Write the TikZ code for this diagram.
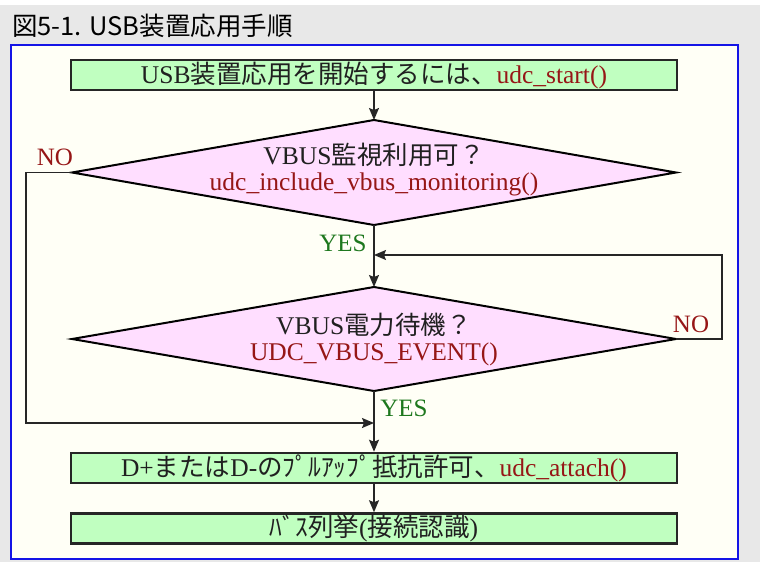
\documentclass[tikz,border=0pt]{standalone}
\usepackage{fontspec}
\setmainfont{Liberation Serif}
\newfontfamily\cjk{Noto Sans CJK JP}
\usetikzlibrary{shapes.geometric,arrows.meta}
\definecolor{bggray}{RGB}{232,232,232}
\definecolor{ivorybg}{RGB}{255,255,246}
\definecolor{boxgreen}{RGB}{192,255,192}
\definecolor{dpink}{RGB}{255,222,255}
\definecolor{fred}{RGB}{150,22,22}
\definecolor{fgreen}{RGB}{30,120,30}
\definecolor{frameblue}{RGB}{20,20,230}
\definecolor{ink}{RGB}{32,32,32}
\newcommand\jx[1]{{\cjk #1}}
\newcommand\fn[1]{{\color{fred}#1}}
\begin{document}
\begin{tikzpicture}[x=1pt,y=-1pt,
  stepbox/.style={draw=black!85, line width=2.5pt, fill=boxgreen, minimum width=606pt,
    minimum height=30pt, inner sep=0pt, text=ink, font=\fontsize{25.5}{26}\selectfont},
  decision/.style={diamond, draw=black, line width=2pt, fill=dpink, minimum width=604pt,
    minimum height=105pt, inner sep=0pt, outer sep=0pt},
  dtext/.style={align=center, inner sep=0pt, text=ink, font=\fontsize{25.5}{26}\selectfont},
  conn/.style={line width=1.3pt, draw=black!85},
  arr/.style={conn, -{Stealth[length=12pt,width=10pt,inset=2pt]}},
  lab/.style={font=\fontsize{25}{25}\selectfont, inner sep=0pt}]
\useasboundingbox (0,0) rectangle (760,562);
\fill[white] (0,0) rectangle (760,562);
\fill[bggray] (0,5) rectangle (760,562);
\draw[frameblue, line width=2pt, fill=ivorybg] (10.5,44.5) rectangle (737.5,558.5);
\node[anchor=west, inner sep=0pt, font=\fontsize{25.5}{26}\cjk\selectfont] (title) at (12,26) {図5-1. USB装置応用手順};

\node[stepbox] (b1) at (374,75) {USB\jx{装置応用を開始するには、}\fn{udc\_start()}};
\node[decision] (d1) at (374,172.5) {};
\node[dtext] (d1t) at (374,169.5) {VBUS\jx{監視利用可？}\\\fn{udc\_include\_vbus\_monitoring()}};
\node[decision, minimum height=104pt] (d2) at (374,339) {};
\node[dtext] (d2t) at (374,339) {VBUS\jx{電力待機？}\\\fn{UDC\_VBUS\_EVENT()}};
\node[stepbox] (b2) at (374,468) {D+\jx{または}D-\jx{のﾌﾟﾙｱｯﾌﾟ抵抗許可、}\fn{udc\_attach()}};
\node[stepbox] (b3) at (374,528.5) {\jx{ﾊﾞｽ列挙}(\jx{接続認識})};

\node[lab, text=fred] (no1) at (55,157) {NO};
\node[lab, text=fgreen] (yes1) at (343,243) {YES};
\node[lab, text=fred] (no2) at (691,324) {NO};
\node[lab, text=fgreen] (yes2) at (404,408) {YES};

\coordinate (rc) at (722,255);
\coordinate (lc) at (26,423);
\draw[arr] (b1.south) -- (d1.north);
\draw[arr] (d1.south) -- (d2.north);
\draw[arr] (d2.east) -| (rc) -- (rc -| d1.south);
\draw[arr] (d1.west) -| (lc) -- (lc -| d2.south);
\draw[arr] (d2.south) -- (b2.north);
\draw[arr] (b2.south) -- (b3.north);
\end{tikzpicture}
\end{document}
